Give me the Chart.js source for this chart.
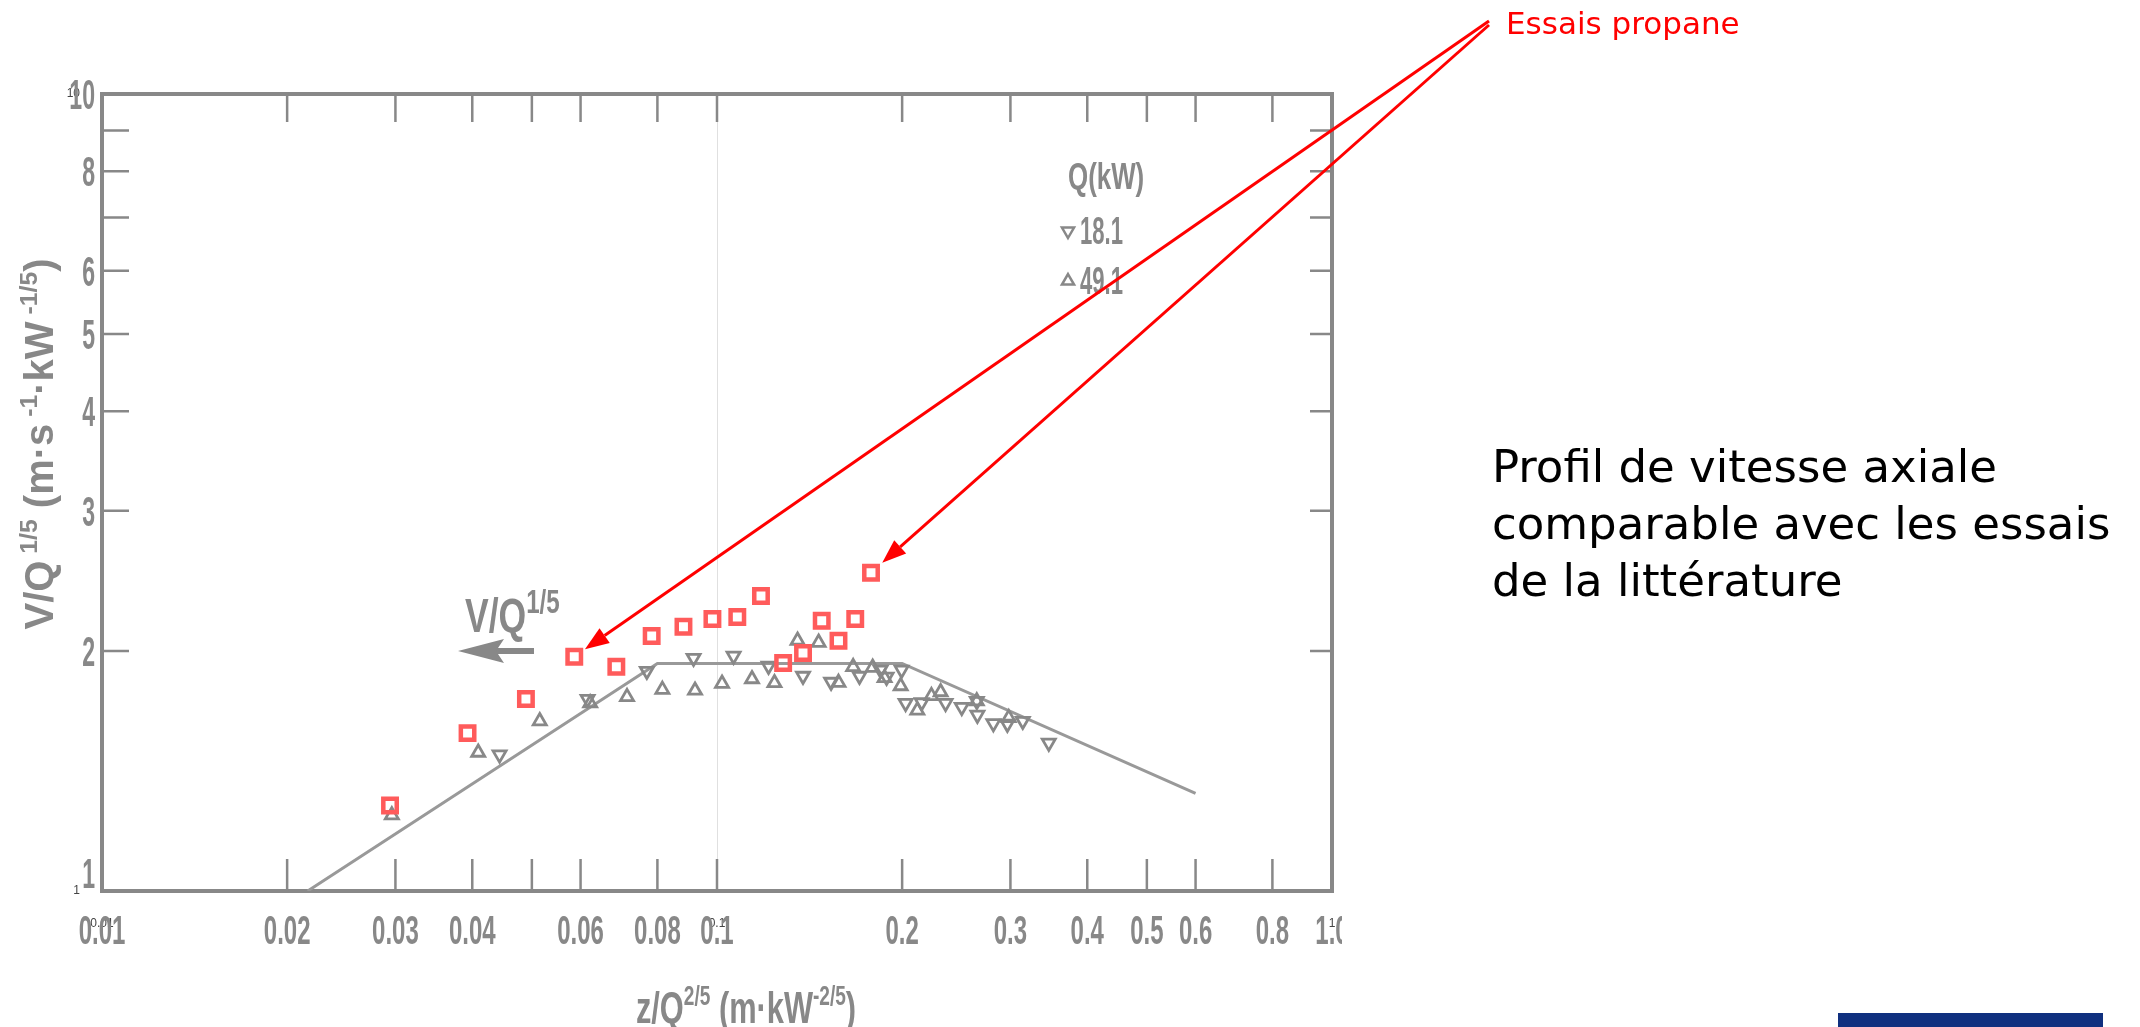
<!DOCTYPE html>
<html>
<head>
<meta charset="utf-8">
<script src="https://cdn.jsdelivr.net/npm/chart.js@4.4.1/dist/chart.umd.min.js"></script>
<style>
    html, body { margin: 0; padding: 0; background: #fff; overflow: hidden; }
    #wrap { position: relative; width: 2140px; height: 1027px; }
    #chart { position: absolute; left: 0; top: 0; }
    .note {
        position: absolute; left: 1492px; top: 438px;
        font-family: "DejaVu Sans", sans-serif; font-size: 45px; line-height: 57px;
        color: #000; white-space: nowrap;
    }
    .bar { position: absolute; left: 1838px; top: 1013px; width: 265px; height: 14px; background: #10307f; }
</style>
</head>
<body>
<div id="wrap">
    <canvas id="chart" width="2140" height="1027"></canvas>
    <div class="note">Profil de vitesse axiale<br>comparable avec les essais<br>de la littérature</div>
    <div class="bar"></div>
</div>
<script>
// red squares (propane tests)
const propaneX = [0.0294, 0.0393, 0.0489, 0.0586, 0.0686, 0.0783, 0.0882, 0.0983, 0.1079, 0.1179,
    0.1281, 0.138, 0.148, 0.1576, 0.1678, 0.178];
const propaneY = [1.28, 1.578, 1.741, 1.968, 1.911, 2.089, 2.146, 2.194, 2.207, 2.345,
    1.932, 1.989, 2.183, 2.061, 2.194, 2.508];

// scanned literature points, Q = 18.1 kW (down triangles)
const q18X = [0.0443, 0.0616, 0.0769, 0.0916, 0.1064, 0.1213, 0.138, 0.1533, 0.1705, 0.1845, 0.1887,
    0.1996, 0.2026, 0.2152, 0.2353, 0.25, 0.2645, 0.2651, 0.2814, 0.2966, 0.3142, 0.3463];
const q18Y = [1.483, 1.741, 1.888, 1.96, 1.972, 1.916, 1.861, 1.829, 1.861, 1.894, 1.856,
    1.894, 1.721, 1.724, 1.721, 1.701, 1.731, 1.663, 1.623, 1.62, 1.634, 1.534];

// Q = 49.1 kW (up triangles)
const q49X = [0.0296, 0.0409, 0.0515, 0.0622, 0.0714, 0.0815, 0.0921, 0.1019, 0.114, 0.124, 0.1352,
    0.1463, 0.1576, 0.1665, 0.1791, 0.1873, 0.1989, 0.2117, 0.2232, 0.231, 0.2645, 0.2981];
const q49Y = [1.245, 1.492, 1.634, 1.721, 1.752, 1.789, 1.785, 1.821, 1.845, 1.824, 2.062,
    2.05, 1.826, 1.911, 1.907, 1.851, 1.808, 1.685, 1.757, 1.777, 1.731, 1.649];

// the drawn correlation line
const curveX = [0.0216, 0.08, 0.2, 0.6];
const curveY = [1.0, 1.93, 1.93, 1.326];

// axis labels
const xLabels = ["0.01", "0.02", "0.03", "0.04", "0.06", "0.08", "0.1", "0.2", "0.3", "0.4", "0.5", "0.6", "0.8", "1.0"];
const xTickMarks = [0.02, 0.03, 0.04, 0.05, 0.06, 0.08, 0.1, 0.2, 0.3, 0.4, 0.5, 0.6, 0.8];
const yLabels = ["1", "2", "3", "4", "5", "6", "8", "10"];
const yTickMarks = [2, 3, 4, 5, 6, 7, 8, 9];
const smallXTicks = [0.01, 0.1, 1];
const smallYTicks = [1, 10];
const arrowTargets = [3, 15];

const GRAY = "#888888";
const RED = "#ff5b5b";

function points(xs, ys) {
    return xs.map((x, i) => ({x: x, y: ys[i]}));
}

function scanFont(size) {
    return `bold ${size}px "Liberation Sans", Arial, sans-serif`;
}

// scanned, condensed looking text; parts = [[text, isSup], ...]
function scanText(ctx, parts, x, y, size, squeeze, align, supScale) {
    const sup = supScale || 0.62;
    ctx.save();
    const widths = parts.map(([text, isSup]) => {
        ctx.font = scanFont(isSup ? size * sup : size);
        return ctx.measureText(text).width;
    });
    const total = widths.reduce((a, b) => a + b, 0) * squeeze;
    let left = x;
    if (align === "center") left = x - total / 2;
    if (align === "right") left = x - total;
    ctx.translate(left, y);
    ctx.scale(squeeze, 1);
    ctx.fillStyle = GRAY;
    ctx.textAlign = "left";
    ctx.textBaseline = "alphabetic";
    let cx = 0;
    parts.forEach(([text, isSup], i) => {
        ctx.font = scanFont(isSup ? size * sup : size);
        ctx.fillText(text, cx, isSup ? -size * 0.4 : 0);
        cx += widths[i];
    });
    ctx.restore();
}

function triangle(ctx, x, y, r, down) {
    const s = down ? -1 : 1;
    ctx.beginPath();
    ctx.moveTo(x, y - s * r);
    ctx.lineTo(x + r * 0.866, y + s * r / 2);
    ctx.lineTo(x - r * 0.866, y + s * r / 2);
    ctx.closePath();
    ctx.stroke();
}

const scanPlugin = {
    id: "scan",
    beforeDatasetsDraw(chart) {
        const ctx = chart.ctx;
        const xs = chart.scales.x;
        const ys = chart.scales.y;
        const left = xs.getPixelForValue(0.01);
        const right = xs.getPixelForValue(1);
        const top = ys.getPixelForValue(10);
        const bottom = ys.getPixelForValue(1);

        ctx.save();
        ctx.beginPath();
        ctx.rect(0, 0, right + 10, chart.height);
        ctx.clip();

        ctx.strokeStyle = GRAY;
        ctx.lineWidth = 4;
        ctx.strokeRect(left, top, right - left, bottom - top);

        ctx.lineWidth = 2.5;
        ctx.beginPath();
        xTickMarks.forEach((v) => {
            const px = xs.getPixelForValue(v);
            ctx.moveTo(px, bottom);
            ctx.lineTo(px, bottom - 32);
            ctx.moveTo(px, top);
            ctx.lineTo(px, top + 28);
        });
        yTickMarks.forEach((v) => {
            const py = ys.getPixelForValue(v);
            ctx.moveTo(left, py);
            ctx.lineTo(left + 27, py);
            ctx.moveTo(right, py);
            ctx.lineTo(right - 22, py);
        });
        ctx.stroke();

        xLabels.forEach((label) => {
            scanText(ctx, [[label]], xs.getPixelForValue(Number(label)), bottom + 53, 40, 0.6, "center");
        });
        yLabels.forEach((label) => {
            const v = Number(label);
            const py = v === 1 ? bottom - 3 : ys.getPixelForValue(v) + 15;
            scanText(ctx, [[label]], left - 7, py, 42, 0.55, "right");
        });

        scanText(ctx, [["z/Q"], ["2/5", true], [" (m·kW"], ["-2/5", true], [")"]],
            746, bottom + 132, 44, 0.7, "center");

        ctx.save();
        ctx.translate(53, 444);
        ctx.rotate(-Math.PI / 2);
        scanText(ctx, [["V/Q"], [" 1/5", true], [" (m·s"], [" -1", true], ["·kW"], [" -1/5", true], [")"]],
            0, 0, 40, 1.0, "center");
        ctx.restore();

        // V/Q^1/5 marker with its arrow
        scanText(ctx, [["V/Q"], ["1/5", true]], 465, 632, 48, 0.74, "left", 0.68);
        ctx.fillStyle = GRAY;
        ctx.fillRect(496, 648, 38, 6);
        ctx.beginPath();
        ctx.moveTo(458, 651);
        ctx.lineTo(504, 639);
        ctx.lineTo(496, 651);
        ctx.lineTo(504, 663);
        ctx.closePath();
        ctx.fill();

        // legend
        scanText(ctx, [["Q(kW)"]], 1068, 189, 37, 0.7, "left");
        scanText(ctx, [["18.1"]], 1080, 244, 38, 0.58, "left");
        scanText(ctx, [["49.1"]], 1080, 294, 38, 0.58, "left");
        ctx.strokeStyle = GRAY;
        ctx.lineWidth = 2.5;
        triangle(ctx, 1068, 231, 7, true);
        triangle(ctx, 1068, 281, 7, false);

        ctx.restore();
    }
};

function redArrow(ctx, x0, y0, x1, y1) {
    const ang = Math.atan2(y1 - y0, x1 - x0);
    const head = 24;
    const half = 9;
    const bx = x1 - Math.cos(ang) * head;
    const by = y1 - Math.sin(ang) * head;
    ctx.beginPath();
    ctx.moveTo(x0, y0);
    ctx.lineTo(bx, by);
    ctx.stroke();
    ctx.beginPath();
    ctx.moveTo(x1, y1);
    ctx.lineTo(bx + Math.sin(ang) * half, by - Math.cos(ang) * half);
    ctx.lineTo(bx - Math.sin(ang) * half, by + Math.cos(ang) * half);
    ctx.closePath();
    ctx.fill();
}

const notePlugin = {
    id: "note",
    afterDraw(chart) {
        const ctx = chart.ctx;
        const xs = chart.scales.x;
        const ys = chart.scales.y;
        ctx.save();
        ctx.fillStyle = "#ff0000";
        ctx.strokeStyle = "#ff0000";
        ctx.lineWidth = 3;
        ctx.font = '31px "DejaVu Sans", sans-serif';
        ctx.textBaseline = "alphabetic";
        ctx.fillText("Essais propane", 1506, 34);
        const starts = [[1489, 21], [1489, 25]];
        arrowTargets.forEach((idx, k) => {
            const cx = xs.getPixelForValue(propaneX[idx]);
            const cy = ys.getPixelForValue(propaneY[idx]);
            const [sx, sy] = starts[k];
            const d = Math.hypot(sx - cx, sy - cy);
            const gap = k === 0 ? 13 : 15;
            redArrow(ctx, sx, sy, cx + (sx - cx) / d * gap, cy + (sy - cy) / d * gap);
        });
        ctx.restore();
    }
};

new Chart(document.getElementById("chart"), {
    type: "scatter",
    data: {
        datasets: [
            {
                label: "Essais propane",
                data: points(propaneX, propaneY),
                pointStyle: "rect",
                pointRadius: 9.5,
                borderWidth: 4.5,
                borderColor: RED,
                backgroundColor: "rgba(255,255,255,0)"
            },
            {
                label: "18.1",
                data: points(q18X, q18Y),
                pointStyle: "triangle",
                rotation: 180,
                pointRadius: 7.5,
                borderWidth: 2.8,
                borderColor: GRAY,
                backgroundColor: "rgba(255,255,255,0)"
            },
            {
                label: "49.1",
                data: points(q49X, q49Y),
                pointStyle: "triangle",
                pointRadius: 7.5,
                borderWidth: 2.8,
                borderColor: GRAY,
                backgroundColor: "rgba(255,255,255,0)"
            },
            {
                label: "curve",
                data: points(curveX, curveY),
                showLine: true,
                pointRadius: 0,
                borderWidth: 3,
                borderColor: "#999999"
            }
        ]
    },
    options: {
        responsive: false,
        animation: false,
        events: [],
        layout: {padding: {left: 0, right: 808, top: 94, bottom: 96}},
        plugins: {legend: {display: false}, tooltip: {enabled: false}},
        scales: {
            x: {
                type: "logarithmic",
                min: 0.01,
                max: 1,
                afterBuildTicks: (scale) => { scale.ticks = smallXTicks.map((v) => ({value: v})); },
                afterFit: (scale) => { scale.height = 40; },
                ticks: {
                    callback: (v) => String(v),
                    font: {size: 12},
                    color: "#444",
                    padding: 25,
                    maxRotation: 0,
                    autoSkip: false
                },
                grid: {drawTicks: false, color: "rgba(0,0,0,0.12)"},
                border: {display: false}
            },
            y: {
                type: "logarithmic",
                min: 1,
                max: 10,
                afterBuildTicks: (scale) => { scale.ticks = smallYTicks.map((v) => ({value: v})); },
                afterFit: (scale) => { scale.width = 102; },
                ticks: {
                    callback: (v) => String(v),
                    font: {size: 12},
                    color: "#444",
                    padding: 22,
                    autoSkip: false
                },
                grid: {drawTicks: false, color: "rgba(0,0,0,0.12)"},
                border: {display: false}
            }
        }
    },
    plugins: [scanPlugin, notePlugin]
});
</script>
</body>
</html>
